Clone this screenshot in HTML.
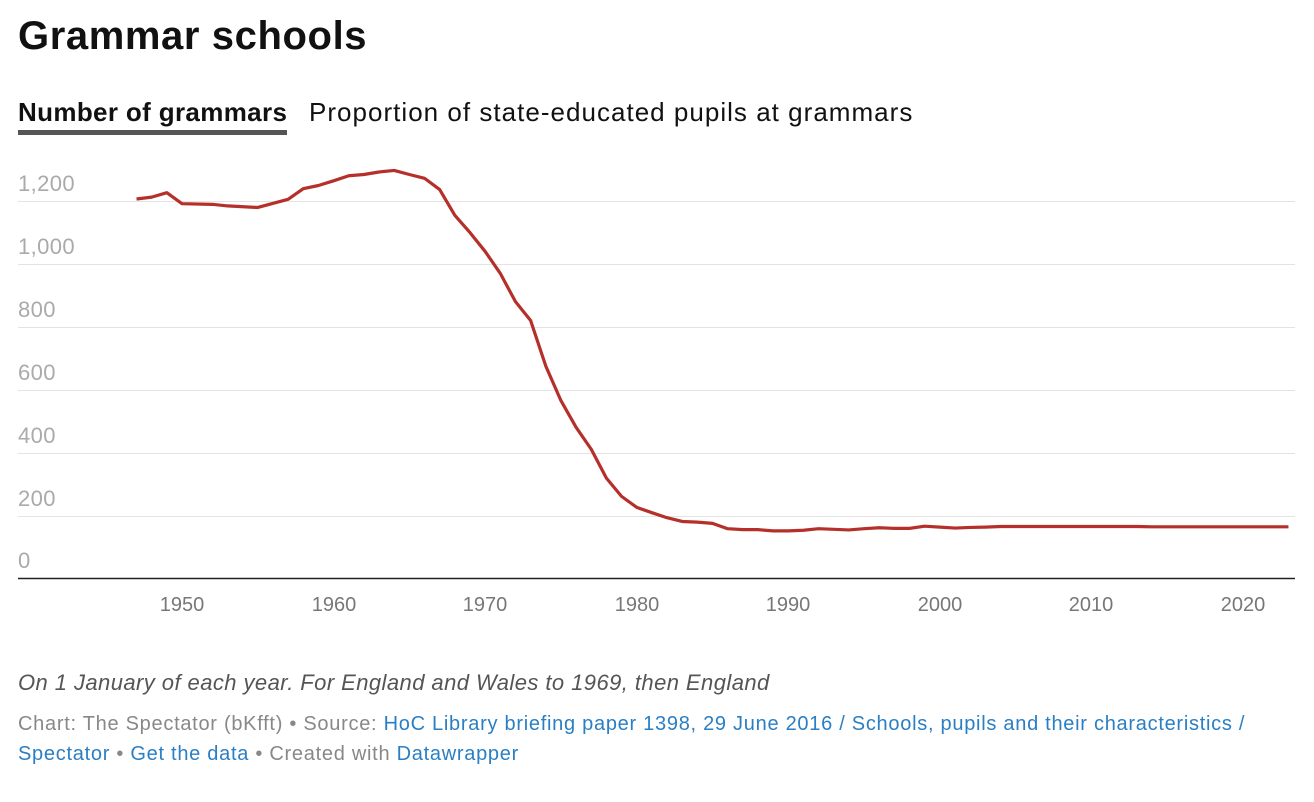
<!DOCTYPE html>
<html><head><meta charset="utf-8"><style>
body{margin:0;width:1314px;height:802px;background:#fff;font-family:"Liberation Sans",sans-serif;position:relative;overflow:hidden}
.a{position:absolute;white-space:nowrap}
.yl{position:absolute;left:18px;color:#aaa;font-size:22px;letter-spacing:0.4px}
.xl{position:absolute;top:594px;color:#777;font-size:20px;width:80px;text-align:center}
a{color:#2a7fc4;text-decoration:none}
</style></head><body>
<div class="a" style="left:18px;top:14px;font-size:40px;font-weight:bold;color:#111;letter-spacing:0.6px">Grammar schools</div>
<div class="a" style="left:18px;top:97px;font-size:26px;font-weight:bold;color:#111;letter-spacing:0.35px">Number of grammars</div>
<div class="a" style="left:18px;top:130px;width:269px;height:5px;background:#555"></div>
<div class="a" style="left:309px;top:97px;font-size:26px;color:#111;letter-spacing:1.02px">Proportion of state-educated pupils at grammars</div>
<svg class="a" style="left:0;top:0" width="1314" height="802">
<g stroke="#e3e3e3" stroke-width="1">
<line x1="18" x2="1295" y1="201.5" y2="201.5"/><line x1="18" x2="1295" y1="264.5" y2="264.5"/>
<line x1="18" x2="1295" y1="327.5" y2="327.5"/><line x1="18" x2="1295" y1="390.5" y2="390.5"/>
<line x1="18" x2="1295" y1="453.5" y2="453.5"/><line x1="18" x2="1295" y1="516.5" y2="516.5"/>
</g>
<line x1="18" x2="1295" y1="578.5" y2="578.5" stroke="#222" stroke-width="1.5"/>
<g transform="translate(182,578) scale(15.157,-0.314) translate(-1950,0)">
<polyline vector-effect="non-scaling-stroke" fill="none" stroke="#b5302a" stroke-width="3.2" stroke-linejoin="round" points="1947,1207 1948,1213 1949,1227 1950,1192 1952,1190 1953,1185 1955,1180 1957,1206 1958,1240 1959,1250 1960,1265 1961,1281 1962,1285 1963,1293 1964,1298 1965,1285 1966,1273 1967,1237 1968,1155 1969,1100 1970,1040 1971,970 1972,880 1973,820 1974,675 1975,565 1976,480 1977,410 1978,318 1979,260 1980,225 1981,208 1982,192 1983,180 1984,178 1985,174 1986,157 1987,154 1988,154 1989,150 1990,150 1991,152 1992,157 1993,155 1994,153 1995,157 1996,160 1997,158 1998,158 1999,165 2000,162 2001,159 2002,161 2003,162 2004,164 2013,164 2014,163 2023,163"/>
</g>
</svg>
<div class="yl" style="top:171px">1,200</div>
<div class="yl" style="top:234px">1,000</div>
<div class="yl" style="top:297px">800</div>
<div class="yl" style="top:360px">600</div>
<div class="yl" style="top:423px">400</div>
<div class="yl" style="top:486px">200</div>
<div class="yl" style="top:548px">0</div>
<div class="xl" style="left:142px">1950</div>
<div class="xl" style="left:294px">1960</div>
<div class="xl" style="left:445px">1970</div>
<div class="xl" style="left:597px">1980</div>
<div class="xl" style="left:748px">1990</div>
<div class="xl" style="left:900px">2000</div>
<div class="xl" style="left:1051px">2010</div>
<div class="xl" style="left:1203px">2020</div>
<div class="a" style="left:18px;top:670px;font-size:22px;font-style:italic;color:#555;letter-spacing:0.43px">On 1 January of each year. For England and Wales to 1969, then England</div>
<div class="a" style="left:18px;top:709px;font-size:20px;color:#888;line-height:30px;letter-spacing:0.72px">Chart: The Spectator (bKfft) • Source: <a>HoC Library briefing paper 1398, 29 June 2016 / Schools, pupils and their characteristics /</a><br><a>Spectator</a> • <a>Get the data</a> • Created with <a>Datawrapper</a></div>
</body></html>
